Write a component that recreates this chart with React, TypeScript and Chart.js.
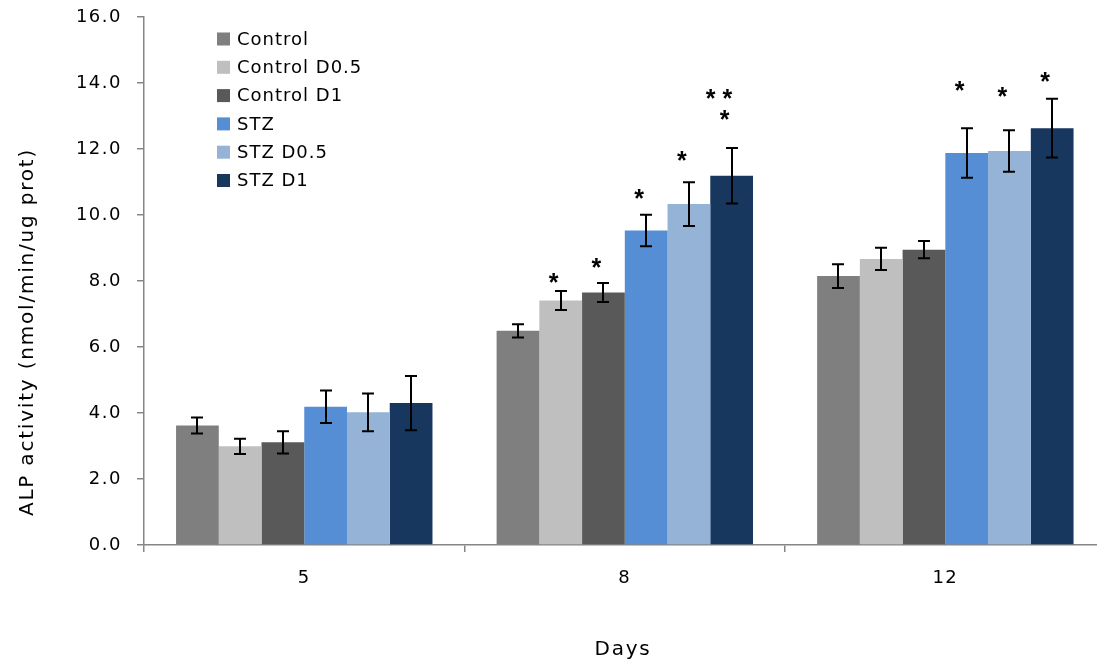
import React, { useEffect, useRef } from 'react';
import { Chart, registerables } from 'chart.js';

Chart.register(...registerables);

const categories = ['5', '8', '12'];
const seriesNames = ['Control', 'Control D0.5', 'Control D1', 'STZ', 'STZ D0.5', 'STZ D1'];
const seriesColors = ['#7f7f7f', '#bfbfbf', '#595959', '#558ed5', '#95b3d7', '#17375e'];

const control = [3.62, 6.49, 8.15];
const controlD05 = [2.99, 7.41, 8.67];
const controlD1 = [3.11, 7.65, 8.95];
const stz = [4.19, 9.53, 11.88];
const stzD05 = [4.02, 10.33, 11.94];
const stzD1 = [4.3, 11.19, 12.63];

const controlErr = [0.24, 0.2, 0.36];
const controlD05Err = [0.23, 0.29, 0.34];
const controlD1Err = [0.34, 0.29, 0.26];
const stzErr = [0.49, 0.48, 0.75];
const stzD05Err = [0.57, 0.66, 0.63];
const stzD1Err = [0.82, 0.84, 0.89];

const seriesValues = [control, controlD05, controlD1, stz, stzD05, stzD1];
const seriesErrors = [controlErr, controlD05Err, controlD1Err, stzErr, stzD05Err, stzD1Err];

// significance marks: series index, category index, text, value (centre of mark)
const starSeries = [1, 2, 3, 4, 5, 5, 3, 4, 5];
const starCats = [1, 1, 1, 1, 1, 1, 2, 2, 2];
const starTexts = ['*', '*', '*', '*', '**', '*', '*', '*', '*'];
const starValues = [8.1, 8.55, 10.63, 11.78, 13.67, 13.04, 13.9, 13.73, 14.19];

const yMin = 0;
const yMax = 16;
const yStep = 2;

const yTitle = 'ALP activity (nmol/min/ug prot)';
const xTitle = 'Days';

const W = 1110;
const H = 665;
const FONT = '"DejaVu Sans", "Open Sans", sans-serif';
const AXIS = '#868686';

const overlay = {
  id: 'overlay',
  beforeDraw(chart: any) {
    (chart.ctx as any).letterSpacing = '1.5px';
  },
  afterDatasetsDraw(chart: any) {
    const ctx = chart.ctx as CanvasRenderingContext2D;
    const y = chart.scales.y;
    ctx.save();
    ctx.strokeStyle = '#000';
    ctx.lineWidth = 2;
    seriesValues.forEach((vals, i) => {
      const meta = chart.getDatasetMeta(i);
      meta.data.forEach((bar: any, j: number) => {
        const v = vals[j];
        const e = seriesErrors[i][j];
        const x = Math.round(bar.x);
        const yt = y.getPixelForValue(v + e);
        const yb = y.getPixelForValue(v - e);
        ctx.beginPath();
        ctx.moveTo(x, yt);
        ctx.lineTo(x, yb);
        ctx.moveTo(x - 6, yt);
        ctx.lineTo(x + 6, yt);
        ctx.moveTo(x - 6, yb);
        ctx.lineTo(x + 6, yb);
        ctx.stroke();
      });
    });
    ctx.fillStyle = '#000';
    ctx.font = `bold 25px "Liberation Sans", ${FONT}`;
    (ctx as any).letterSpacing = '0px';
    ctx.textAlign = 'center';
    ctx.textBaseline = 'alphabetic';
    starTexts.forEach((t, k) => {
      const bar = chart.getDatasetMeta(starSeries[k]).data[starCats[k]];
      const yc = y.getPixelForValue(starValues[k]);
      const m = ctx.measureText('*');
      const yy = yc + (m.actualBoundingBoxAscent - m.actualBoundingBoxDescent) / 2;
      const n = t.length;
      const cx = bar.x - 7 - (n - 1) * 5.7;
      for (let c = 0; c < n; c++) {
        ctx.fillText('*', cx + (c - (n - 1) / 2) * 16.6, yy);
      }
    });
    ctx.restore();
  },
  afterDraw(chart: any) {
    const ctx = chart.ctx as CanvasRenderingContext2D;
    ctx.save();
    // legend
    ctx.font = `18px ${FONT}`;
    (ctx as any).letterSpacing = '1px';
    ctx.textAlign = 'left';
    ctx.textBaseline = 'middle';
    seriesNames.forEach((name, i) => {
      const cy = 39 + i * 28.3;
      ctx.fillStyle = seriesColors[i];
      ctx.fillRect(217, cy - 6.5, 13, 13);
      ctx.fillStyle = '#000';
      ctx.fillText(name, 237, cy + 1);
    });
    // axis titles
    ctx.font = `20px ${FONT}`;
    (ctx as any).letterSpacing = '1.8px';
    ctx.textAlign = 'center';
    ctx.fillText(xTitle, 623, 650);
    ctx.translate(28, 332);
    ctx.rotate(-Math.PI / 2);
    ctx.fillText(yTitle, 0, 0);
    ctx.restore();
  },
};

export default function App() {
  const ref = useRef<HTMLCanvasElement>(null);
  useEffect(() => {
    document.body.style.margin = '0';
    const chart = new Chart(ref.current!, {
      type: 'bar',
      data: {
        labels: categories,
        datasets: seriesNames.map((name, i) => ({
          label: name,
          data: seriesValues[i],
          backgroundColor: seriesColors[i],
          borderWidth: 0,
          categoryPercentage: 0.8,
          barPercentage: 1.0,
        })),
      },
      options: {
        responsive: false,
        animation: false,
        devicePixelRatio: 1,
        layout: { padding: { top: 17, right: W - 1105.6, left: 0, bottom: 0 } },
        plugins: { legend: { display: false }, tooltip: { enabled: false } },
        scales: {
          x: {
            type: 'category',
            offset: true,
            grid: {
              display: true,
              drawOnChartArea: false,
              drawTicks: true,
              tickLength: 7,
              color: AXIS,
              lineWidth: 1.5,
              offset: true,
            },
            border: { color: AXIS, width: 1.5 },
            ticks: { color: '#000', font: { family: FONT, size: 18 }, padding: 16 },
            afterFit: (s: any) => {
              s.height = H - 545;
              s.paddingLeft = 0;
              s.paddingRight = 0;
            },
          },
          y: {
            min: yMin,
            max: yMax,
            ticks: {
              stepSize: yStep,
              callback: (v: any) => Number(v).toFixed(1),
              color: '#000',
              font: { family: FONT, size: 18 },
              padding: 15,
            },
            grid: { drawOnChartArea: false, tickLength: 7, color: AXIS, lineWidth: 1.5 },
            border: { color: AXIS, width: 1.5 },
            afterFit: (s: any) => {
              s.width = 144;
              s.paddingTop = 0;
              s.paddingBottom = 0;
            },
          },
        },
      },
      plugins: [overlay],
    } as any);
    return () => chart.destroy();
  }, []);
  return (
    <div
      style={{
        position: 'fixed',
        left: 0,
        top: 0,
        width: 1097,
        height: 665,
        overflow: 'hidden',
        background: '#fff',
      }}
    >
      <canvas ref={ref} width={W} height={H} style={{ width: W, height: H, display: 'block' }} />
    </div>
  );
}
